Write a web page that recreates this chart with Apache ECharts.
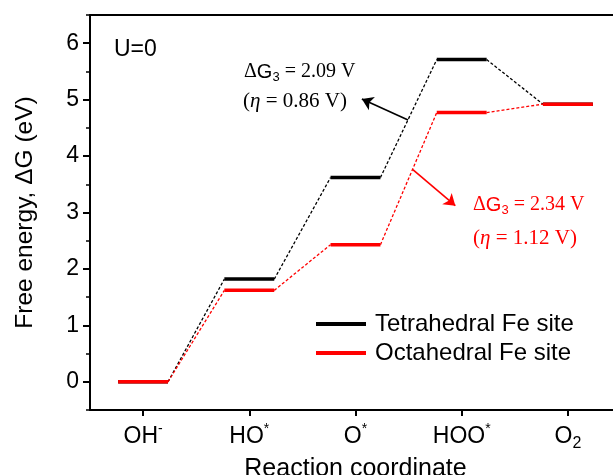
<!DOCTYPE html>
<html>
<head>
<meta charset="utf-8">
<script src="https://cdn.jsdelivr.net/npm/echarts@6/dist/echarts.min.js"></script>
<style>
html,body{margin:0;padding:0;background:#fff;}
#chart{width:613px;height:475px;}
</style>
</head>
<body>
<div id="chart"></div>
<script>
// ---- data ----
const categories = ['OH-', 'HO*', 'O*', 'HOO*', 'O2'];
const tetraValues = [0, 1.82, 3.62, 5.71, 4.92];
const octaValues = [0, 1.62, 2.43, 4.77, 4.92];
const seriesNames = ['Tetrahedral Fe site', 'Octahedral Fe site'];
const yTickValues = [0, 1, 2, 3, 4, 5, 6];
// annotation arrows (data coordinates: x in state units, y in eV)
const tetraArrow = [[2.995, 4.64], [2.56, 5.01]];
const octaArrow = [[3.04, 3.76], [3.44, 3.12]];

// ---- helpers ----
const HALF = 0.235; // half width of each level bar, in state units
function levelSegments(vals) {
  const out = [];
  vals.forEach((v, i) => {
    out.push([i + 0.5 - HALF, v], [i + 0.5 + HALF, v], [i + 0.5 + HALF, '-']);
  });
  return out;
}
function connectorSegments(vals) {
  const out = [];
  for (let i = 0; i < vals.length - 1; i++) {
    out.push([i + 0.5 + HALF, vals[i]], [i + 1.5 - HALF, vals[i + 1]], [i + 1.5 - HALF, '-']);
  }
  return out;
}
const SANS = 'Liberation Sans, Arial, sans-serif';
const SERIF = 'Liberation Serif, Times New Roman, serif';

function catLabel(v) {
  const m = v.match(/^(.*?)([-*])$/);
  if (m) return '{n|' + m[1] + '}{sup|' + m[2] + '}';
  const d = v.match(/^(.*?)(\d)$/);
  if (d) return '{n|' + d[1] + '}{sub|' + d[2] + '}';
  return '{n|' + v + '}';
}

const chart = echarts.init(document.getElementById('chart'));
const option = {
  backgroundColor: '#fff',
  animation: false,
  grid: [
    { left: 90, right: -8, top: 15, bottom: 65, outerBoundsMode: 'none', containLabel: false },
    { left: 90, right: -8, top: 43.2, bottom: 93.2, outerBoundsMode: 'none', containLabel: false }
  ],
  xAxis: [
    { // visible category axis
      type: 'category', gridIndex: 0, data: categories, position: 'bottom',
      boundaryGap: true,
      axisLine: { show: true, onZero: false, lineStyle: { color: '#000', width: 2 } },
      axisTick: { show: true, alignWithLabel: true, length: 6, lineStyle: { color: '#000', width: 2 } },
      axisLabel: {
        margin: 12, color: '#000', formatter: catLabel,
        rich: {
          n: { fontSize: 23, fontFamily: SANS, color: '#000', lineHeight: 30 },
          sup: { fontSize: 14, fontFamily: SANS, color: '#000', lineHeight: 14, padding: [0, 0, 16, 0] },
          sub: { fontSize: 16, fontFamily: SANS, color: '#000', lineHeight: 16, padding: [14, 0, 0, 0] }
        }
      },
      name: 'Reaction coordinate', nameLocation: 'middle', nameGap: 43,
      nameTextStyle: { fontSize: 25, fontFamily: SANS, color: '#000' },
      splitLine: { show: false }
    },
    { // hidden value axis for data
      type: 'value', gridIndex: 0, min: 0, max: 5, show: false
    },
    { // top frame line
      type: 'value', gridIndex: 0, position: 'top', min: 0, max: 5,
      axisLine: { show: true, onZero: false, lineStyle: { color: '#000', width: 2 } },
      axisTick: { show: false }, axisLabel: { show: false }, splitLine: { show: false }
    },
    { type: 'value', gridIndex: 1, min: 0, max: 5, show: false }
  ],
  yAxis: [
    { // data axis with minor ticks
      type: 'value', gridIndex: 0, min: -0.5, max: 6.5, interval: 0.5,
      axisLine: { show: true, onZero: false, lineStyle: { color: '#000', width: 2 } },
      axisTick: { show: true, length: 4, lineStyle: { color: '#000', width: 1.5 } },
      axisLabel: { show: false }, splitLine: { show: false }
    },
    { // major ticks + labels
      type: 'value', gridIndex: 1, min: yTickValues[0], max: yTickValues[yTickValues.length - 1], interval: 1,
      axisLine: { show: false, onZero: false },
      axisTick: { show: true, length: 7, lineStyle: { color: '#000', width: 2 } },
      axisLabel: { margin: 11, fontSize: 23, fontFamily: SANS, color: '#000' },
      splitLine: { show: false },
      name: 'Free energy, \u0394G (eV)', nameLocation: 'middle', nameGap: 52,
      nameTextStyle: { fontSize: 24.5, fontFamily: SANS, color: '#000' }
    }
  ],
  legend: {
    data: seriesNames, orient: 'vertical', left: 316, top: 312, padding: 0,
    icon: 'rect', itemWidth: 50, itemHeight: 4, itemGap: 5,
    textStyle: { fontSize: 24, fontFamily: SANS, color: '#000', lineHeight: 24, padding: [0, 0, 0, 4] },
    selectedMode: false
  },
  series: [
    {
      name: seriesNames[0], type: 'line', xAxisIndex: 1, yAxisIndex: 0,
      data: levelSegments(tetraValues), symbol: 'none', color: '#000',
      lineStyle: { color: '#000', width: 3.5 }, connectNulls: false, z: 3,
      markLine: {
        silent: true, symbol: ['none', 'arrow'], symbolSize: 11,
        lineStyle: { color: '#000', width: 1.6, type: 'solid' }, label: { show: false },
        data: [[{ coord: tetraArrow[0] }, { coord: tetraArrow[1] }]]
      }
    },
    {
      name: 'tetra-steps', type: 'line', xAxisIndex: 1, yAxisIndex: 0,
      data: connectorSegments(tetraValues), symbol: 'none',
      lineStyle: { color: '#000', width: 1.3, type: [3, 2] }, connectNulls: false, z: 2
    },
    {
      name: 'octa-steps', type: 'line', xAxisIndex: 1, yAxisIndex: 0,
      data: connectorSegments(octaValues), symbol: 'none',
      lineStyle: { color: '#ff0000', width: 1.3, type: [3, 2] }, connectNulls: false, z: 2
    },
    {
      name: seriesNames[1], type: 'line', xAxisIndex: 1, yAxisIndex: 0,
      data: levelSegments(octaValues), symbol: 'none', color: '#ff0000',
      lineStyle: { color: '#ff0000', width: 3.5 }, connectNulls: false, z: 4,
      markLine: {
        silent: true, symbol: ['none', 'arrow'], symbolSize: 11,
        lineStyle: { color: '#ff0000', width: 1.6, type: 'solid' }, label: { show: false },
        data: [[{ coord: octaArrow[0] }, { coord: octaArrow[1] }]]
      }
    }
  ],
  graphic: [
    { type: 'text', x: 114, y: 50, style: { text: 'U=0', font: '23px ' + SANS, fill: '#000', verticalAlign: 'middle' } },
    { type: 'text', x: 244, y: 72, style: {
        text: '{a|\u0394}{g|G}{s|3}{b| = 2.09 V}', verticalAlign: 'middle', fill: '#000',
        rich: {
          a: { fontSize: 20, fontFamily: SERIF, fill: '#000', lineHeight: 24 },
          g: { fontSize: 20, fontFamily: SANS, fill: '#000', lineHeight: 24 },
          s: { fontSize: 13, fontFamily: SANS, fill: '#000', lineHeight: 13, padding: [11, 0, 0, 0] },
          b: { fontSize: 20, fontFamily: SERIF, fill: '#000', lineHeight: 24 }
        } } },
    { type: 'text', x: 243, y: 101, style: {
        text: '{b|(}{i|\u03b7}{b| = 0.86 V)}', verticalAlign: 'middle', fill: '#000',
        rich: {
          b: { fontSize: 21, fontFamily: SERIF, fill: '#000' },
          i: { fontSize: 21, fontFamily: SERIF, fontStyle: 'italic', fill: '#000' }
        } } },
    { type: 'text', x: 473, y: 205, style: {
        text: '{a|\u0394}{g|G}{s|3}{b| = 2.34 V}', verticalAlign: 'middle', fill: '#ff0000',
        rich: {
          a: { fontSize: 20, fontFamily: SERIF, fill: '#ff0000', lineHeight: 24 },
          g: { fontSize: 20, fontFamily: SANS, fill: '#ff0000', lineHeight: 24 },
          s: { fontSize: 13, fontFamily: SANS, fill: '#ff0000', lineHeight: 13, padding: [11, 0, 0, 0] },
          b: { fontSize: 20, fontFamily: SERIF, fill: '#ff0000', lineHeight: 24 }
        } } },
    { type: 'text', x: 473, y: 238, style: {
        text: '{b|(}{i|\u03b7}{b| = 1.12 V)}', verticalAlign: 'middle', fill: '#ff0000',
        rich: {
          b: { fontSize: 21, fontFamily: SERIF, fill: '#ff0000' },
          i: { fontSize: 21, fontFamily: SERIF, fontStyle: 'italic', fill: '#ff0000' }
        } } }
  ]
};
chart.setOption(option);
</script>
</body>
</html>
